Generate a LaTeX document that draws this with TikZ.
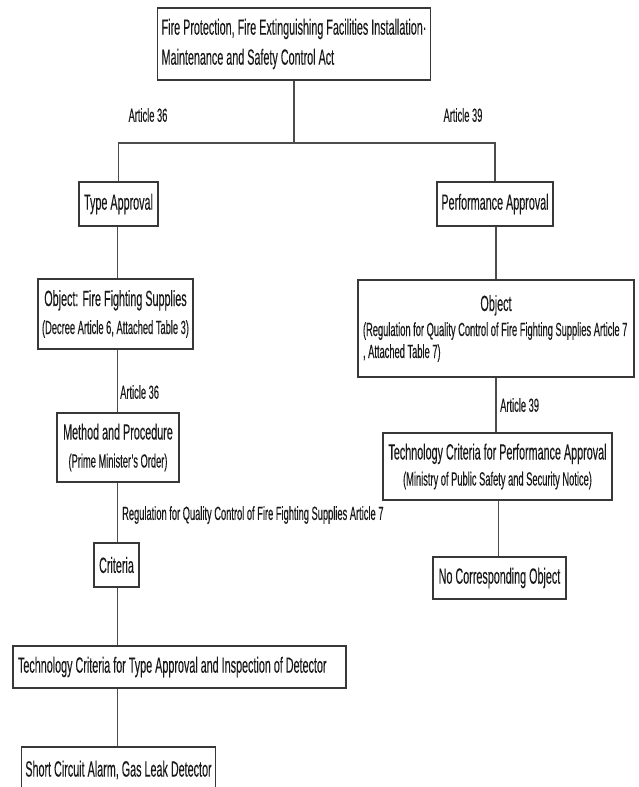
\documentclass[tikz,border=0pt]{standalone}
\usepackage{fontspec}
\setmainfont{Liberation Sans}[FakeStretch=0.49,FakeBold=0.15]
\newcommand\mainf{\fontsize{22}{28}\selectfont}
\newcommand\subf{\fontsize{19}{24}\selectfont}
\newcommand\lblf{\fontsize{19}{24}\selectfont}
\tikzset{
  box/.style={draw=black!78, line width=1.2pt, fill=white, inner sep=4pt, font=\mainf, text=black!90},
  conn/.style={draw=black!70, line width=1.1pt},
  lbl/.style={font=\lblf, inner sep=0pt, text=black!90}
}
\begin{document}
\begin{tikzpicture}[x=1pt,y=-1pt]
\useasboundingbox (0,0) rectangle (638,787);
\clip (0,0) rectangle (638,787);
\fill[white] (0,0) rectangle (638,787);

% boxes
\node[box, minimum width=270pt, minimum height=72pt, align=left, font=\fontsize{22}{30}\selectfont] (top) at (294,44)
  {Fire Protection, Fire Extinguishing Facilities Installation·\\Maintenance and Safety Control Act};
\node[box, minimum width=79pt, minimum height=44pt] (type) at (118.5,204) {Type Approval};
\node[box, minimum width=116pt, minimum height=44pt] (perf) at (495,204) {Performance Approval};
\node[box, minimum width=155pt, minimum height=70pt, align=center] (objl) at (115.5,314)
  {Object: Fire Fighting Supplies\\{\subf (Decree Article 6, Attached Table 3)}};
\node[box, minimum width=276pt, minimum height=97pt, align=left] (objr) at (496,328.5)
  {\makebox[266pt]{Object}\\[-3pt]{\subf\makebox[266pt][l]{(Regulation for Quality Control of Fire Fighting Supplies Article 7}}\\[-6pt]{\subf\makebox[266pt][l]{, Attached Table 7)}}};
\node[box, minimum width=122pt, minimum height=69pt, align=center] (meth) at (118,447.5)
  {Method and Procedure\\{\subf (Prime Minister's Order)}};
\node[box, minimum width=229pt, minimum height=67pt, align=center] (techp) at (497.5,466.5)
  {Technology Criteria for Performance Approval\\[-2pt]{\subf (Ministry of Public Safety and Security Notice)}};
\node[box, minimum width=133pt, minimum height=42pt] (nocorr) at (499.5,578) {No Corresponding Object};
\node[box, minimum width=45pt, minimum height=44pt, inner sep=2pt] (crit) at (116.5,565) {Criteria};
\node[box, minimum width=333pt, minimum height=42pt] (techt) at (179.5,667)
  {\makebox[323pt][l]{Technology Criteria for Type Approval and Inspection of Detector}};
\node[box, minimum width=193pt, minimum height=46pt] (short) at (118.5,770) {Short Circuit Alarm, Gas Leak Detector};

% column coordinates
\coordinate (h) at (0,143);
\coordinate (lc) at (117.5,0);
\coordinate (rc) at (496,0);
\coordinate (rc2) at (498.5,0);

% connectors
\draw[conn] (top.south) -- (top.south |- h);
\draw[conn] (type.north) |- (top.south |- h) -| (perf.north);
\draw[conn] (type.south -| lc) -- (objl.north -| lc);
\draw[conn] (objl.south -| lc) -- (meth.north -| lc);
\draw[conn] (meth.south -| lc) -- (crit.north -| lc);
\draw[conn] (crit.south -| lc) -- (techt.north -| lc);
\draw[conn] (techt.south -| lc) -- (short.north -| lc);
\draw[conn] (perf.south -| rc) -- (objr.north -| rc);
\draw[conn] (objr.south -| rc) -- (techp.north -| rc);
\draw[conn] (techp.south -| rc2) -- (nocorr.north -| rc2);

% labels
\node[lbl] (a36) at (148,115) {Article 36};
\node[lbl] (a39) at (463,115) {Article 39};
\node[lbl, anchor=west] (a36b) at (120,392) {Article 36};
\node[lbl, anchor=west] (a39b) at (500,405) {Article 39};
\node[lbl, anchor=west] (reg) at (122,515) {Regulation for Quality Control of Fire Fighting Supplies Article 7};
\end{tikzpicture}
\end{document}
